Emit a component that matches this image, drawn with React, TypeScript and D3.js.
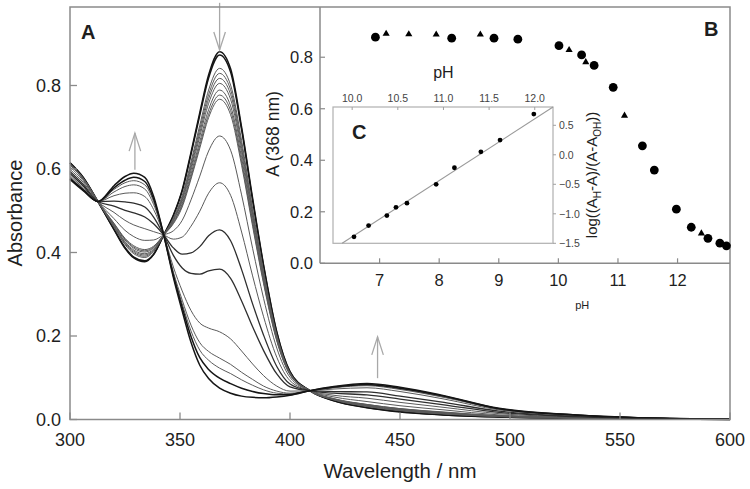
import React from 'react';
import * as d3 from 'd3';

// ---------- Panel A: absorption spectra ----------
const wavelengths = [300, 306, 312.7, 320, 325, 329, 334, 338, 342.6, 347, 351, 355, 359, 363, 368, 373, 378, 383, 388, 394, 400, 409, 420, 435, 450, 470, 495, 530, 570, 600];

const spectrum01 = [0.615, 0.58, 0.522, 0.455, 0.41, 0.387, 0.378, 0.395, 0.442, 0.49, 0.55, 0.64, 0.735, 0.825, 0.881, 0.84, 0.70, 0.53, 0.37, 0.21, 0.115, 0.069, 0.045, 0.028, 0.018, 0.011, 0.006, 0.003, 0.001, 0.0];
const spectrum02 = [0.615, 0.58, 0.522, 0.456, 0.412, 0.389, 0.380, 0.396, 0.442, 0.488, 0.547, 0.635, 0.729, 0.818, 0.873, 0.832, 0.694, 0.525, 0.367, 0.208, 0.114, 0.069, 0.045, 0.029, 0.019, 0.011, 0.006, 0.003, 0.001, 0.0];
const spectrum03 = [0.613, 0.578, 0.522, 0.460, 0.419, 0.397, 0.388, 0.402, 0.442, 0.483, 0.536, 0.617, 0.705, 0.789, 0.841, 0.801, 0.668, 0.506, 0.354, 0.202, 0.112, 0.069, 0.047, 0.031, 0.021, 0.013, 0.007, 0.003, 0.001, 0.0];
const spectrum04 = [0.612, 0.578, 0.522, 0.462, 0.421, 0.400, 0.391, 0.404, 0.442, 0.480, 0.531, 0.610, 0.696, 0.778, 0.829, 0.790, 0.658, 0.499, 0.349, 0.200, 0.111, 0.069, 0.047, 0.032, 0.022, 0.014, 0.007, 0.004, 0.001, 0.0];
const spectrum05 = [0.612, 0.577, 0.522, 0.463, 0.424, 0.403, 0.394, 0.406, 0.442, 0.478, 0.527, 0.604, 0.687, 0.768, 0.817, 0.779, 0.649, 0.492, 0.345, 0.198, 0.110, 0.069, 0.048, 0.033, 0.023, 0.015, 0.008, 0.004, 0.001, 0.0];
const spectrum06 = [0.611, 0.577, 0.522, 0.465, 0.426, 0.406, 0.397, 0.408, 0.442, 0.476, 0.523, 0.597, 0.678, 0.757, 0.805, 0.767, 0.639, 0.485, 0.340, 0.195, 0.110, 0.069, 0.048, 0.034, 0.024, 0.015, 0.008, 0.004, 0.001, 0.0];
const spectrum07 = [0.610, 0.576, 0.522, 0.467, 0.430, 0.410, 0.401, 0.411, 0.442, 0.473, 0.517, 0.588, 0.666, 0.742, 0.789, 0.751, 0.627, 0.476, 0.334, 0.192, 0.109, 0.069, 0.049, 0.035, 0.025, 0.016, 0.008, 0.004, 0.001, 0.0];
const spectrum08 = [0.610, 0.576, 0.522, 0.469, 0.432, 0.413, 0.404, 0.413, 0.442, 0.471, 0.513, 0.581, 0.657, 0.731, 0.777, 0.740, 0.617, 0.469, 0.329, 0.190, 0.108, 0.069, 0.049, 0.036, 0.026, 0.017, 0.009, 0.004, 0.001, 0.0];
const spectrum09 = [0.609, 0.576, 0.522, 0.470, 0.434, 0.416, 0.407, 0.415, 0.442, 0.469, 0.509, 0.576, 0.650, 0.723, 0.767, 0.730, 0.609, 0.463, 0.325, 0.188, 0.107, 0.069, 0.050, 0.036, 0.026, 0.018, 0.009, 0.004, 0.001, 0.0];
const spectrum10 = [0.605, 0.572, 0.522, 0.481, 0.453, 0.438, 0.429, 0.430, 0.442, 0.452, 0.477, 0.526, 0.583, 0.643, 0.679, 0.645, 0.538, 0.410, 0.290, 0.171, 0.101, 0.069, 0.054, 0.043, 0.033, 0.023, 0.011, 0.005, 0.002, 0.0];
const spectrum11 = [0.599, 0.568, 0.522, 0.496, 0.477, 0.466, 0.457, 0.450, 0.442, 0.432, 0.437, 0.463, 0.499, 0.542, 0.567, 0.537, 0.449, 0.344, 0.246, 0.149, 0.093, 0.069, 0.058, 0.051, 0.041, 0.029, 0.014, 0.006, 0.002, 0.0];
const spectrum12 = [0.594, 0.563, 0.522, 0.511, 0.501, 0.495, 0.485, 0.469, 0.442, 0.411, 0.396, 0.399, 0.414, 0.440, 0.454, 0.428, 0.359, 0.277, 0.202, 0.127, 0.085, 0.069, 0.063, 0.059, 0.049, 0.035, 0.017, 0.007, 0.002, 0.001];
const spectrum13 = [0.589, 0.559, 0.522, 0.523, 0.521, 0.518, 0.509, 0.485, 0.442, 0.393, 0.363, 0.350, 0.348, 0.356, 0.360, 0.338, 0.284, 0.222, 0.165, 0.109, 0.078, 0.069, 0.067, 0.066, 0.056, 0.041, 0.020, 0.008, 0.002, 0.001];
const spectrum14 = [0.584, 0.555, 0.522, 0.536, 0.542, 0.543, 0.534, 0.503, 0.442, 0.365, 0.308, 0.261, 0.231, 0.219, 0.210, 0.193, 0.164, 0.133, 0.105, 0.080, 0.068, 0.069, 0.073, 0.076, 0.067, 0.049, 0.023, 0.010, 0.003, 0.001];
const spectrum15 = [0.581, 0.552, 0.522, 0.545, 0.558, 0.562, 0.552, 0.515, 0.442, 0.353, 0.286, 0.226, 0.184, 0.163, 0.147, 0.132, 0.113, 0.096, 0.080, 0.068, 0.063, 0.069, 0.076, 0.081, 0.072, 0.053, 0.025, 0.010, 0.003, 0.001];
const spectrum16 = [0.579, 0.551, 0.522, 0.551, 0.567, 0.572, 0.562, 0.522, 0.442, 0.349, 0.277, 0.212, 0.166, 0.142, 0.123, 0.110, 0.095, 0.082, 0.071, 0.063, 0.061, 0.069, 0.077, 0.083, 0.074, 0.054, 0.026, 0.011, 0.003, 0.001];
const spectrum17 = [0.577, 0.550, 0.522, 0.555, 0.573, 0.580, 0.570, 0.528, 0.442, 0.345, 0.269, 0.199, 0.148, 0.120, 0.099, 0.086, 0.075, 0.067, 0.062, 0.059, 0.060, 0.069, 0.078, 0.084, 0.075, 0.056, 0.026, 0.011, 0.003, 0.001];
const spectrum18 = [0.575, 0.548, 0.522, 0.56, 0.582, 0.59, 0.58, 0.535, 0.442, 0.34, 0.26, 0.185, 0.13, 0.098, 0.075, 0.063, 0.056, 0.053, 0.052, 0.054, 0.058, 0.069, 0.079, 0.086, 0.077, 0.057, 0.027, 0.011, 0.003, 0.001];

const spectra = [spectrum01, spectrum02, spectrum03, spectrum04, spectrum05, spectrum06, spectrum07, spectrum08, spectrum09, spectrum10, spectrum11, spectrum12, spectrum13, spectrum14, spectrum15, spectrum16, spectrum17, spectrum18];

const wavelengthTicks = [300, 350, 400, 450, 500, 550, 600];
const absorbanceTicks = [0, 0.2, 0.4, 0.6, 0.8];

// arrows: [wavelength, tail absorbance, tip absorbance]
const arrowWavelength = [368, 329.5, 439.8];
const arrowTail = [0.998, 0.598, 0.099];
const arrowTip = [0.885, 0.686, 0.198];

// ---------- Panel B: A(368 nm) vs pH ----------
const bCirclePH = [6.93, 8.21, 8.92, 9.32, 10.01, 10.39, 10.60, 10.92, 11.41, 11.61, 11.98, 12.23, 12.51, 12.71, 12.82];
const bCircleA = [0.878, 0.874, 0.874, 0.870, 0.845, 0.809, 0.768, 0.683, 0.456, 0.362, 0.210, 0.140, 0.097, 0.078, 0.068];
const bTrianglePH = [7.11, 7.49, 7.95, 8.69, 10.18, 10.46, 11.11, 12.40];
const bTriangleA = [0.891, 0.889, 0.888, 0.888, 0.828, 0.781, 0.573, 0.116];
const bPHTicks = [7, 8, 9, 10, 11, 12];
const bATicks = [0, 0.2, 0.4, 0.6, 0.8];

// ---------- Panel C: linearised plot ----------
const cPH = [10.02, 10.18, 10.38, 10.48, 10.60, 10.92, 11.12, 11.41, 11.62, 11.99];
const cLog = [-1.39, -1.20, -1.03, -0.89, -0.82, -0.50, -0.22, 0.05, 0.25, 0.69];
const cFitPH = [9.89, 12.2];
const cFitLog = [-1.5, 0.81];
const cPHTicks = [10, 10.5, 11, 11.5, 12];
const cLogTicks = [-1.5, -1, -0.5, 0, 0.5];

const FONT = 'Liberation Sans, Arial, Helvetica, sans-serif';

export default function App() {
  const x = d3.scaleLinear().domain([300, 600]).range([70, 730]);
  const y = d3.scaleLinear().domain([0, 0.988]).range([419.5, 7]);

  const bx = d3.scaleLinear().domain([6, 12.88]).range([320, 730]);
  const by = d3.scaleLinear().domain([0, 0.995]).range([263.3, 7]);

  const cx = d3.scaleLinear().domain([9.79, 12.2]).range([333, 553]);
  const cy = d3.scaleLinear().domain([-1.5, 0.81]).range([243.3, 107]);

  const line = d3
    .line<number>()
    .x((_, i) => x(wavelengths[i]))
    .y((d) => y(d))
    .curve(d3.curveMonotoneX);

  const tri = d3.symbol().type(d3.symbolTriangle).size(22)() as string;

  const n = spectra.length;
  const styleFor = (i: number) => {
    if (i <= 1 || i >= n - 2) return { stroke: '#151515', width: 1.5 };
    if (i === 11 || i === 12) return { stroke: '#2e2e2e', width: 1.3 };
    return { stroke: '#5a5a5a', width: 1.0 };
  };

  const axisColor = '#8a8a8a';
  const textColor = '#1e1e1e';

  return (
    <svg width={750} height={489} style={{ position: 'absolute', left: 0, top: 0, background: '#fff' }} fontFamily={FONT}>
      <rect x={0} y={0} width={750} height={489} fill="#fff" />

      {/* Spectra */}
      <g fill="none">
        {spectra.map((s, i) => {
          const st = styleFor(i);
          return <path key={i} d={line(s) as string} stroke={st.stroke} strokeWidth={st.width} strokeLinejoin="round" />;
        })}
      </g>

      {/* Arrows */}
      <g stroke="#a8a8a8" strokeWidth={1.3} fill="none">
        {arrowWavelength.map((w, i) => {
          const ax = x(w);
          const yTail = y(arrowTail[i]);
          const yTip = y(arrowTip[i]);
          const dir = yTail > yTip ? 1 : -1;
          return (
            <g key={i}>
              <line x1={ax} y1={yTail} x2={ax} y2={yTip} />
              <path d={`M${ax - 5.8},${yTip + dir * 18} L${ax},${yTip} L${ax + 5.8},${yTip + dir * 18}`} />
            </g>
          );
        })}
      </g>

      {/* Main frame */}
      <rect x={x(300)} y={y(0.988)} width={x(600) - x(300)} height={y(0) - y(0.988)} fill="none" stroke={axisColor} strokeWidth={1.5} />

      {/* Main ticks */}
      <g stroke={axisColor} strokeWidth={1.3}>
        {absorbanceTicks.map((t) => (
          <line key={'yt' + t} x1={x(300)} x2={x(300) + 7} y1={y(t)} y2={y(t)} />
        ))}
        {wavelengthTicks.map((t) => (
          <line key={'xt' + t} x1={x(t)} x2={x(t)} y1={y(0)} y2={y(0) - 7} />
        ))}
      </g>
      <g fill={textColor} fontSize={18}>
        {absorbanceTicks.map((t) => (
          <text key={'yl' + t} x={x(300) - 9} y={y(t)} dy="0.36em" textAnchor="end">
            {d3.format('.1f')(t)}
          </text>
        ))}
        {wavelengthTicks.map((t) => (
          <text key={'xl' + t} x={x(t)} y={446} textAnchor="middle">
            {t}
          </text>
        ))}
      </g>
      <text x={400} y={478} textAnchor="middle" fontSize={20.5} fill={textColor}>
        Wavelength / nm
      </text>
      <text transform="translate(22,213) rotate(-90)" textAnchor="middle" fontSize={20} fill={textColor}>
        Absorbance
      </text>
      <text x={81} y={39} fontSize={20} fontWeight="bold" fill={textColor}>
        A
      </text>

      {/* Panel B */}
      <g stroke={axisColor} strokeWidth={1.5}>
        <line x1={bx(6)} x2={bx(6)} y1={by(0.995)} y2={by(0)} />
        <line x1={bx(6)} x2={bx(12.88)} y1={by(0)} y2={by(0)} />
      </g>
      <g stroke={axisColor} strokeWidth={1.2}>
        {bATicks.map((t) => (
          <line key={'byt' + t} x1={bx(6)} x2={bx(6) + 5} y1={by(t)} y2={by(t)} />
        ))}
        {bPHTicks.map((t) => (
          <line key={'bxt' + t} x1={bx(t)} x2={bx(t)} y1={by(0)} y2={by(0) - 5} />
        ))}
      </g>
      <g fill={textColor} fontSize={16.5}>
        {bATicks.map((t) => (
          <text key={'byl' + t} x={bx(6) - 7} y={by(t)} dy="0.36em" textAnchor="end">
            {d3.format('.1f')(t)}
          </text>
        ))}
        {bPHTicks.map((t) => (
          <text key={'bxl' + t} x={bx(t)} y={286} textAnchor="middle">
            {t}
          </text>
        ))}
      </g>
      <text transform="translate(279,134) rotate(-90)" textAnchor="middle" fontSize={17.5} fill={textColor}>
        A (368 nm)
      </text>
      <text x={bx(10.4)} y={309} textAnchor="middle" fontSize={11} fill={textColor}>
        pH
      </text>
      <text x={704} y={36} fontSize={20} fontWeight="bold" fill={textColor}>
        B
      </text>
      <g fill="#000">
        {bCirclePH.map((p, i) => (
          <circle key={'bc' + i} cx={bx(p)} cy={by(bCircleA[i])} r={4.4} />
        ))}
        {bTrianglePH.map((p, i) => (
          <path key={'bt' + i} d={tri} transform={`translate(${bx(p)},${by(bTriangleA[i])})`} />
        ))}
      </g>

      {/* Panel C */}
      <rect x={cx(9.79)} y={cy(0.81)} width={cx(12.2) - cx(9.79)} height={cy(-1.5) - cy(0.81)} fill="#fff" stroke="#b0b0b0" strokeWidth={1.2} />
      <g stroke="#a0a0a0" strokeWidth={1}>
        {cPHTicks.map((t) => (
          <line key={'cxt' + t} x1={cx(t)} x2={cx(t)} y1={cy(0.81)} y2={cy(0.81) + 3} />
        ))}
        {cLogTicks.map((t) => (
          <line key={'cyt' + t} x1={cx(12.2)} x2={cx(12.2) + 3} y1={cy(t)} y2={cy(t)} />
        ))}
      </g>
      <line x1={cx(cFitPH[0])} y1={cy(cFitLog[0])} x2={cx(cFitPH[1])} y2={cy(cFitLog[1])} stroke="#9a9a9a" strokeWidth={1.1} />
      <g fill="#000">
        {cPH.map((p, i) => (
          <circle key={'cc' + i} cx={cx(p)} cy={cy(cLog[i])} r={2.4} />
        ))}
      </g>
      <g fill="#444" fontSize={10.5}>
        {cPHTicks.map((t) => (
          <text key={'cxl' + t} x={cx(t)} y={102} textAnchor="middle">
            {d3.format('.1f')(t)}
          </text>
        ))}
        {cLogTicks.map((t) => (
          <text key={'cyl' + t} x={cx(12.2) + 6} y={cy(t)} dy="0.36em" textAnchor="start">
            {d3.format('.1f')(t)}
          </text>
        ))}
      </g>
      <text x={cx(11.0)} y={78} textAnchor="middle" fontSize={16} fill={textColor}>
        pH
      </text>
      <text transform="translate(597,175) rotate(-90)" textAnchor="middle" fontSize={15} fill={textColor}>
        log((A<tspan fontSize={10} dy={4}>H</tspan>
        <tspan dy={-4}>-A)/(A-A</tspan>
        <tspan fontSize={10} dy={4}>OH</tspan>
        <tspan dy={-4}>))</tspan>
      </text>
      <text x={352} y={139} fontSize={20} fontWeight="bold" fill={textColor}>
        C
      </text>
    </svg>
  );
}
